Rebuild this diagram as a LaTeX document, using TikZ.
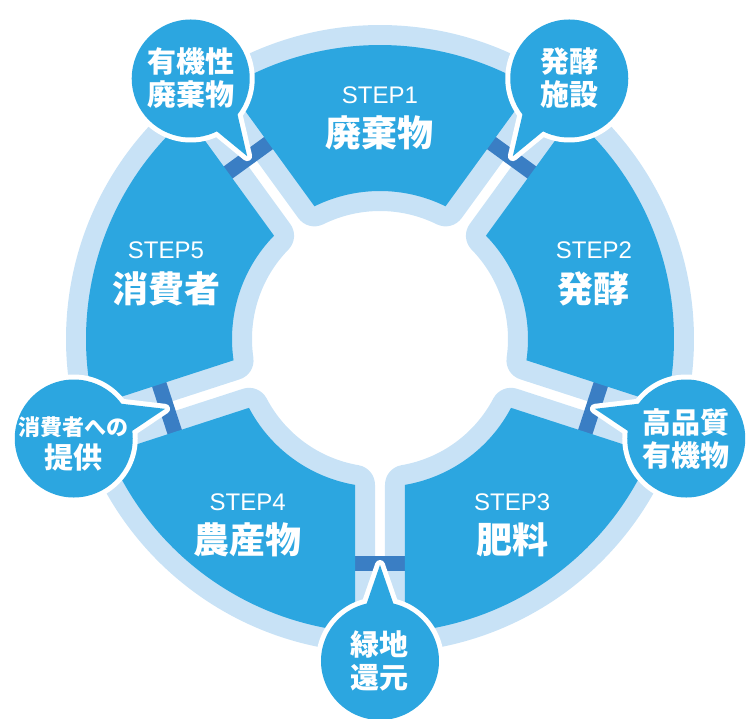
\documentclass[tikz,border=0pt]{standalone}
\usepackage{fontspec}
\newfontfamily\jpfont{Noto Sans CJK JP}
\newfontfamily\latfont{Liberation Sans}
\usetikzlibrary{calc}
\definecolor{segblue}{RGB}{44,166,224}
\definecolor{halocol}{RGB}{200,226,246}
\definecolor{barblue}{RGB}{58,126,196}
\begin{document}
\begin{tikzpicture}[x=1pt,y=1pt,
  halostyle/.style={draw=halocol, fill=halocol, line width=40pt, line join=round},
  segstyle/.style={fill=segblue},
  barstyle/.style={draw=barblue, line width=15pt},
  bubwhite/.style={fill=white, draw=white, line width=10pt, line join=round},
  bubblue/.style={fill=segblue},
  steplabel/.style={text=white, font=\latfont\fontsize{24}{24}\selectfont, inner sep=0pt},
  titlelabel/.style={text=white, font=\jpfont\bfseries\fontsize{36}{36}\selectfont, inner sep=0pt},
  bubtext/.style={text=white, align=center, font=\jpfont\bfseries\fontsize{29}{33}\selectfont, inner sep=0pt}
]
\useasboundingbox (-380,-379) rectangle (367,339);
\def\Rout{294}
\def\Rin{148}
\def\gapd{25}
\pgfmathsetmacro\angR{asin(\gapd/\Rout)}
\pgfmathsetmacro\angr{asin(\gapd/\Rin)}
% halos
\foreach \t in {90,18,-54,-126,-198}{
  \pgfmathsetmacro\sa{\t-36+\angR}
  \pgfmathsetmacro\sb{\t+36-\angR}
  \pgfmathsetmacro\sc{\t+36-\angr}
  \pgfmathsetmacro\sd{\t-36+\angr}
  \draw[halostyle] (\sa:\Rout) arc[start angle=\sa, end angle=\sb, radius=\Rout]
     -- (\sc:\Rin) arc[start angle=\sc, end angle=\sd, radius=\Rin] -- cycle;
}
% connector bars
\foreach \g in {126,54,-18,-90,198}{
  \pgfmathsetmacro\gp{\g+90}
  \pgfmathsetmacro\gm{\g-90}
  \draw[barstyle, shift={(\g:224)}] (\gp:28) -- (\gm:28);
}
% segments
\foreach \t in {90,18,-54,-126,-198}{
  \pgfmathsetmacro\sa{\t-36+\angR}
  \pgfmathsetmacro\sb{\t+36-\angR}
  \pgfmathsetmacro\sc{\t+36-\angr}
  \pgfmathsetmacro\sd{\t-36+\angr}
  \fill[segstyle] (\sa:\Rout) arc[start angle=\sa, end angle=\sb, radius=\Rout]
     -- (\sc:\Rin) arc[start angle=\sc, end angle=\sd, radius=\Rin] -- cycle;
}
% segment labels
\foreach \t/\s/\ttl/\n in {90/STEP1/廃棄物/1, 18/STEP2/発酵/2, -54/STEP3/肥料/3, -126/STEP4/農産物/4, 162/STEP5/消費者/5}{
  \node[steplabel] (step\n) at ($(\t:225)+(0,19)$) {\s};
  \node[titlelabel] (title\n) at ($(\t:225)+(0,-19)$) {\ttl};
}
% bubbles
\foreach \g/\pa/\pb/\n in {126/295/325/1, 54/245/215/2, -18/141/174/3, -90/75/105/4, 198/39/6/5}{
  \pgfmathsetmacro\dir{\g+180}
  \begin{scope}[shift={(\g:322)}]
    \fill[white] (0,0) circle[radius=64];
    \draw[bubwhite] (\pa:56) -- (\dir:96) -- (\pb:56) -- cycle;
    \fill[bubblue] (\pa:56) -- (\dir:96) -- (\pb:56) -- cycle;
    \fill[bubblue] (0,0) circle[radius=59];
    \coordinate (bc\n) at (0,0);
  \end{scope}
}
\node[bubtext] (bt1) at (bc1) {有機性\\廃棄物};
\node[bubtext] (bt2) at (bc2) {発酵\\施設};
\node[bubtext] (bt3) at (bc3) {高品質\\有機物};
\node[bubtext] (bt4) at (bc4) {緑地\\還元};
\node[bubtext] (bt5) at ($(bc5)+(0,-5)$) {{\fontsize{22}{26}\selectfont 消費者への}\\提供};
\end{tikzpicture}
\end{document}
